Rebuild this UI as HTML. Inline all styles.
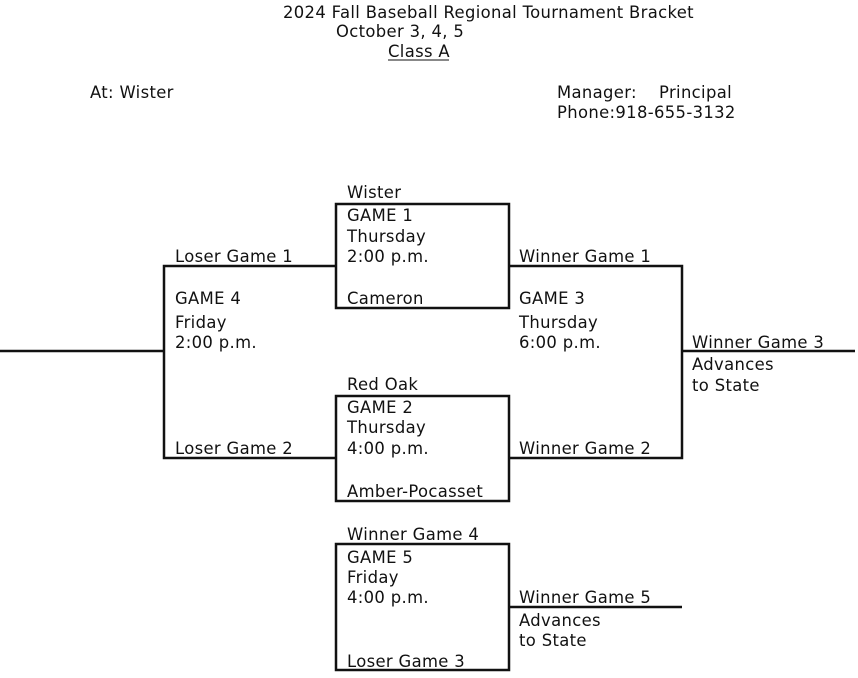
<!DOCTYPE html>
<html><head><meta charset="utf-8"><style>
body{margin:0;background:#fff}
svg{display:block}
text{font-family:"DejaVu Sans",Verdana,sans-serif;font-size:16.4px;letter-spacing:0.35px;fill:#111}
</style></head><body>
<svg width="858" height="678" viewBox="0 0 858 678">
<text x="283" y="18">2024 Fall Baseball Regional Tournament Bracket</text>
<text x="336" y="37">October 3, 4, 5</text>
<text x="388" y="57">Class A</text>
<line x1="388" y1="60" x2="449" y2="60" stroke="#111" stroke-width="1"/>
<text x="90" y="98">At: Wister</text>
<text x="557" y="98">Manager:</text>
<text x="659" y="98">Principal</text>
<text x="557" y="118">Phone:918-655-3132</text>
<g fill="none" stroke="#111" stroke-width="2.5">
<rect x="336" y="204" width="173" height="104"/>
<rect x="336" y="396" width="173" height="105"/>
<rect x="336" y="544" width="173" height="126"/>
<polyline points="336,266 164,266 164,458 336,458"/>
<line x1="0" y1="351" x2="164" y2="351"/>
<polyline points="509,266 682,266 682,458 509,458"/>
<line x1="682" y1="351" x2="855" y2="351"/>
<line x1="509" y1="607" x2="682" y2="607"/>
</g>
<text x="347" y="198">Wister</text>
<text x="347" y="221">GAME 1</text>
<text x="347" y="242">Thursday</text>
<text x="347" y="262">2:00 p.m.</text>
<text x="347" y="304">Cameron</text>
<text x="175" y="262">Loser Game 1</text>
<text x="519" y="262">Winner Game 1</text>
<text x="175" y="304">GAME 4</text>
<text x="175" y="328">Friday</text>
<text x="175" y="348">2:00 p.m.</text>
<text x="519" y="304">GAME 3</text>
<text x="519" y="328">Thursday</text>
<text x="519" y="348">6:00 p.m.</text>
<text x="692" y="348">Winner Game 3</text>
<text x="692" y="370">Advances</text>
<text x="692" y="391">to State</text>
<text x="347" y="390">Red Oak</text>
<text x="347" y="413">GAME 2</text>
<text x="347" y="433">Thursday</text>
<text x="347" y="454">4:00 p.m.</text>
<text x="347" y="497">Amber-Pocasset</text>
<text x="175" y="454">Loser Game 2</text>
<text x="519" y="454">Winner Game 2</text>
<text x="347" y="540">Winner Game 4</text>
<text x="347" y="563">GAME 5</text>
<text x="347" y="583">Friday</text>
<text x="347" y="603">4:00 p.m.</text>
<text x="347" y="667">Loser Game 3</text>
<text x="519" y="603">Winner Game 5</text>
<text x="519" y="626">Advances</text>
<text x="519" y="646">to State</text>
</svg>
</body></html>
